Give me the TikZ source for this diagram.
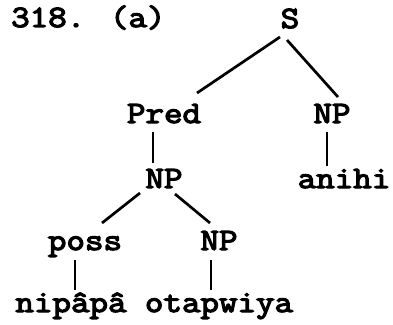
\documentclass[tikz,border=0pt]{standalone}
\usepackage{fontspec}
\newfontfamily\typewriter[FakeStretch=1.16, FakeBold=4]{Latin Modern Mono}
\usetikzlibrary{calc}
\tikzset{
  lab/.style={inner sep=0pt, anchor=base, font=\typewriter\fontsize{31}{31}\selectfont},
  edge/.style={line width=2.7pt, line cap=butt}
}
\begin{document}
\begin{tikzpicture}[x=1pt, y=-1pt]
\useasboundingbox (0,0) rectangle (393,324);
% example number
\node[lab, anchor=base west] (num) at (11,27) {318. (a)};
% tree nodes
\node[lab] (S) at (290,28) {S};
\node[lab] (pred) at (164,123) {Pred};
\node[lab] (npr) at (332,123) {NP};
\node[lab] (npm) at (164,188) {NP};
\node[lab] (anihi) at (344,188) {anihi};
\node[lab] (poss) at (85,250) {poss};
\node[lab] (npl) at (219,250) {NP};
\node[lab] (nipapa) at (71,312) {nipâpâ};
\node[lab] (otap) at (219,312) {otapwiya};
% branches
\draw[edge] ($(S.base)+(-10,9)$) -- ($(pred.base)+(33,-30)$);
\draw[edge] ($(S.base)+(-3,12)$) -- ($(npr.base)+(6,-26)$);
\draw[edge] ($(pred.base)+(-11,9)$) -- ($(npm.base)+(-11,-25)$);
\draw[edge] ($(npr.base)+(-5,9)$) -- ($(anihi.base)+(-17,-22)$);
\draw[edge] ($(npm.base)+(-24,5)$) -- ($(poss.base)+(17,-27)$);
\draw[edge] ($(npm.base)+(11,6)$) -- ($(npl.base)+(-9,-27)$);
\draw[edge] ($(poss.base)+(-10,10)$) -- ($(nipapa.base)+(4,-22)$);
\draw[edge] ($(npl.base)+(-8,10)$) -- ($(otap.base)+(-8,-22)$);
\end{tikzpicture}
\end{document}
